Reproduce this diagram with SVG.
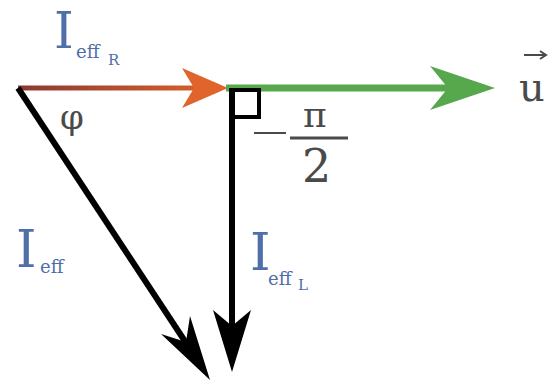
<svg xmlns="http://www.w3.org/2000/svg" width="553" height="388" viewBox="0 0 553 388">
<style>
text{font-family:'DejaVu Serif','Liberation Serif',serif}
.lbl{fill:#4f6fa8}
.sym{fill:#4a4a4a}
</style>
<defs>
<linearGradient id="rg" x1="18" y1="0" x2="228" y2="0" gradientUnits="userSpaceOnUse">
<stop offset="0" stop-color="#8a3a30"/><stop offset="1" stop-color="#e0642c"/>
</linearGradient>
</defs>
<g id="connectors">
<line x1="18" y1="88" x2="200" y2="88" stroke="url(#rg)" stroke-width="5"/>
<path d="M228,88 L182,68 L194,88 L182,108 Z" fill="#e0642c"/>
<line x1="226" y1="88" x2="470" y2="88" stroke="#57a84c" stroke-width="7"/>
<path d="M495,88 L430,66 L448,88 L430,110 Z" fill="#57a84c"/>
<line x1="232" y1="88" x2="232" y2="345" stroke="#000" stroke-width="6"/>
<path d="M232,372 L213,310 L232,326 L251,310 Z" fill="#000"/>
<line x1="18" y1="88" x2="196" y2="358" stroke="#000" stroke-width="6"/>
<path d="M210,380 L161,334 L186,342 L190,316 Z" fill="#000"/>
<polyline points="232,90 259,90 259,117 232,117" fill="none" stroke="#000" stroke-width="4"/>
</g>
<g id="labels">
<text class="lbl" x="54" y="48" font-size="50">I</text>
<text class="lbl" x="76" y="58" font-size="18">eff</text>
<text class="lbl" x="108" y="65" font-size="15">R</text>
<text class="sym" x="60" y="129" font-size="34">φ</text>
<text class="sym" x="519" y="101" font-size="40">u</text>
<path d="M524,55 L546,55 M540,51 L546,55 L540,59" stroke="#4a4a4a" stroke-width="2" fill="none"/>
<line x1="254" y1="133" x2="286" y2="133" stroke="#4a4a4a" stroke-width="2"/>
<text class="sym" x="303" y="127" font-size="36">π</text>
<line x1="290" y1="138" x2="348" y2="138" stroke="#4a4a4a" stroke-width="3"/>
<text class="sym" x="302" y="182" font-size="46">2</text>
<text class="lbl" x="16" y="267" font-size="52">I</text>
<text class="lbl" x="40" y="273" font-size="18">eff</text>
<text class="lbl" x="250" y="270" font-size="52">I</text>
<text class="lbl" x="268" y="285" font-size="18">eff</text>
<text class="lbl" x="298" y="290" font-size="15">L</text>
</g>
</svg>
